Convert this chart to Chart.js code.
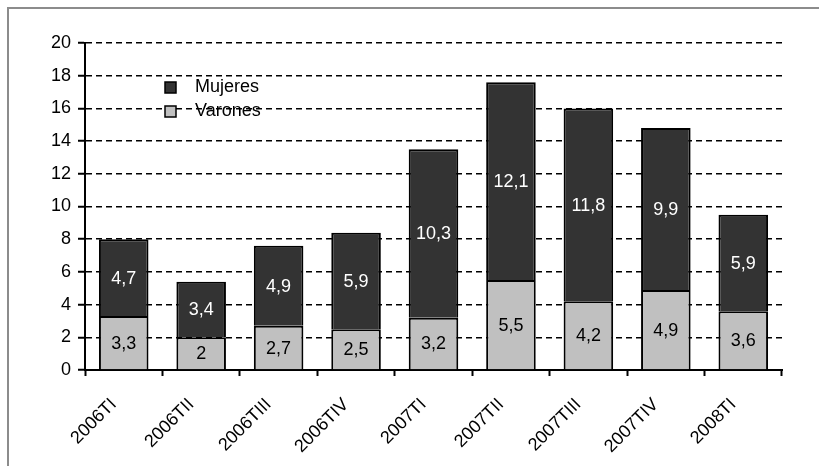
<!DOCTYPE html>
<html>
<head>
<meta charset="utf-8">
<script src="https://cdn.jsdelivr.net/npm/chart.js@4/dist/chart.umd.min.js"></script>
<style>
  html, body { margin: 0; padding: 0; background: #fff; }
</style>
</head>
<body>
<canvas id="myChart" width="819" height="466"></canvas>
<script>
// trimestres
const categories = ['2006TI', '2006TII', '2006TIII', '2006TIV', '2007TI', '2007TII', '2007TIII', '2007TIV', '2008TI'];
const varones = [3.3, 2, 2.7, 2.5, 3.2, 5.5, 4.2, 4.9, 3.6];
const mujeres = [4.7, 3.4, 4.9, 5.9, 10.3, 12.1, 11.8, 9.9, 5.9];
const yTicks = [0, 2, 4, 6, 8, 10, 12, 14, 16, 18, 20];

const FONT = '"Liberation Sans", Arial, sans-serif';
const FSIZE = 18;

// marco gris alrededor de todo el grafico
const framePlugin = {
    id: 'frame',
    beforeDraw(chart) {
        const ctx = chart.ctx;
        ctx.save();
        ctx.fillStyle = '#fff';
        ctx.fillRect(0, 0, chart.width, chart.height);
        ctx.strokeStyle = '#8c8c8c';
        ctx.lineWidth = 2;
        ctx.strokeRect(8, 8, chart.width + 20, chart.height + 20);
        ctx.restore();
    }
};

// etiquetas dentro de cada barra
const labelsPlugin = {
    id: 'barLabels',
    afterDatasetsDraw(chart) {
        const ctx = chart.ctx;
        ctx.save();
        ctx.font = FSIZE + 'px ' + FONT;
        ctx.textAlign = 'center';
        ctx.textBaseline = 'middle';
        chart.data.datasets.forEach((ds, i) => {
            const meta = chart.getDatasetMeta(i);
            meta.data.forEach((bar, j) => {
                const v = ds.data[j];
                ctx.fillStyle = ds.labelColor;
                ctx.fillText(String(v).replace('.', ','), bar.x, (bar.y + bar.base) / 2 + 1);
            });
        });
        ctx.restore();
    }
};

// leyenda dentro del area del grafico
const legendPlugin = {
    id: 'innerLegend',
    afterDraw(chart) {
        const ctx = chart.ctx;
        const area = chart.chartArea;
        const x = area.left + 80;
        let y = area.top + 39;
        ctx.save();
        ctx.font = FSIZE + 'px ' + FONT;
        ctx.textBaseline = 'middle';
        chart.data.datasets.slice().reverse().forEach(ds => {
            ctx.fillStyle = ds.backgroundColor;
            ctx.fillRect(x, y, 11, 11);
            ctx.strokeStyle = '#000';
            ctx.lineWidth = 1.5;
            ctx.strokeRect(x, y, 11, 11);
            ctx.fillStyle = '#000';
            ctx.fillText(ds.label, x + 30, y + 5);
            y += 24;
        });
        ctx.restore();
    }
};

const ctx = document.getElementById('myChart').getContext('2d');

const myChart = new Chart(ctx, {
    type: 'bar',
    data: {
        labels: categories,
        datasets: [
            {
                label: 'Varones',
                data: varones,
                backgroundColor: '#c0c0c0',
                borderColor: '#000',
                borderWidth: 2,
                labelColor: '#000'
            },
            {
                label: 'Mujeres',
                data: mujeres,
                backgroundColor: '#333333',
                borderColor: '#000',
                borderWidth: 2,
                labelColor: '#fff'
            }
        ]
    },
    options: {
        responsive: false,
        animation: false,
        devicePixelRatio: 1,
        categoryPercentage: 1,
        barPercentage: 0.64,
        layout: {
            padding: { left: 10, right: 37, top: 43, bottom: 0 }
        },
        plugins: {
            legend: { display: false },
            tooltip: { enabled: false }
        },
        scales: {
            x: {
                stacked: true,
                offset: true,
                grid: {
                    display: true,
                    drawOnChartArea: false,
                    offset: true,
                    tickLength: 6,
                    tickWidth: 2,
                    tickColor: '#000'
                },
                border: { color: '#000', width: 2 },
                ticks: {
                    color: '#000',
                    font: { family: FONT, size: FSIZE },
                    autoSkip: false,
                    minRotation: 45,
                    maxRotation: 45,
                    padding: 18,
                    labelOffset: -10
                },
                afterFit(scale) { scale.height = 96; }
            },
            y: {
                stacked: true,
                min: 0,
                max: 20,
                afterBuildTicks(scale) {
                    scale.ticks = yTicks.map(v => ({ value: v }));
                },
                grid: {
                    color: '#000',
                    lineWidth: 1.5,
                    tickLength: 7,
                    tickWidth: 2,
                    tickColor: '#000',
                    tickBorderDash: []
                },
                border: { color: '#000', width: 2, dash: [6, 4] },
                ticks: {
                    color: '#000',
                    font: { family: FONT, size: FSIZE },
                    padding: 7
                },
                afterFit(scale) { scale.width = 75; }
            }
        }
    },
    plugins: [framePlugin, labelsPlugin, legendPlugin]
});
</script>
</body>
</html>
